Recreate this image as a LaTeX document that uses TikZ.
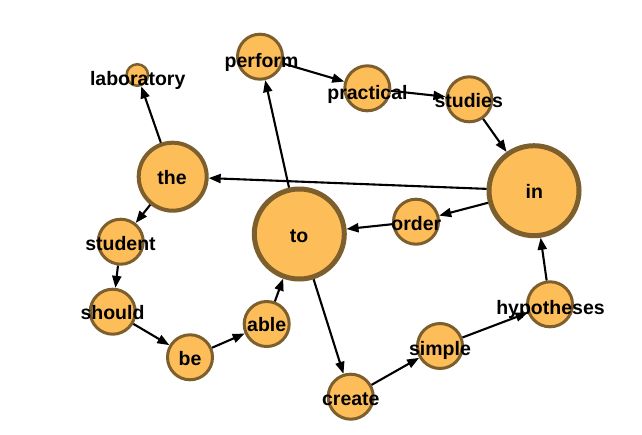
\documentclass[tikz,border=0pt]{standalone}
\usepackage{fontspec}
\setmainfont{Liberation Sans}
\usetikzlibrary{arrows.meta}
\definecolor{nodefill}{RGB}{253,190,90}
\definecolor{nodeedge}{RGB}{125,94,45}
\begin{document}
\begin{tikzpicture}[x=1pt,y=-1pt,
  vtx/.style={circle,draw=nodeedge,fill=nodefill,inner sep=0pt},
  big/.style={vtx,line width=5pt,minimum size=90pt},
  med/.style={vtx,line width=4pt,minimum size=68pt},
  mid/.style={vtx,line width=3pt,minimum size=45pt},
  tiny/.style={vtx,line width=2.5pt,minimum size=21.5pt},
  word/.style={anchor=base,font=\fontsize{19.5}{20}\selectfont\bfseries,text=black,inner sep=0pt},
  link/.style={-{Triangle[length=12pt,width=9pt]},line width=2.1pt,black}]
\useasboundingbox[fill=white] (0,0) rectangle (642,434);
% circles
\node[tiny] (lab) at (137.3,75) {};
\node[mid] (perform) at (260,56.7) {};
\node[mid] (practical) at (367.3,88.3) {};
\node[mid] (studies) at (469.3,99.3) {};
\node[big] (in) at (534,190.7) {};
\node[med] (the) at (172.7,176.7) {};
\node[mid] (order) at (416,221.7) {};
\node[big] (to) at (299.3,234) {};
\node[mid] (student) at (120.7,241.7) {};
\node[mid] (should) at (112.7,311.7) {};
\node[mid] (be) at (190,357.3) {};
\node[mid] (able) at (266.7,324) {};
\node[mid] (create) at (350.7,396.7) {};
\node[mid] (simple) at (440,346) {};
\node[mid] (hyp) at (550,304.3) {};
% edges
\draw[link] (the) -- (lab);
\draw[link] (to) -- (perform);
\draw[link] (perform) -- (practical);
\draw[link] (practical) -- (studies);
\draw[link] (studies) -- (in);
\draw[link] (in) -- (the);
\draw[link] (in) -- (order);
\draw[link] (order) -- (to);
\draw[link] (the) -- (student);
\draw[link] (student) -- (should);
\draw[link] (should) -- (be);
\draw[link] (be) -- (able);
\draw[link] (able) -- (to);
\draw[link] (to) -- (create);
\draw[link] (create) -- (simple);
\draw[link] (simple) -- (hyp);
\draw[link] (hyp) -- (in);
% labels
\node[word] (t-lab) at (137.7,85) {laboratory};
\node[word] (t-perform) at (261.5,67.5) {perform};
\node[word] (t-practical) at (367.5,99) {practical};
\node[word] (t-studies) at (468.7,107) {studies};
\node[word] (t-in) at (534.3,198) {in};
\node[word] (t-order) at (416.3,230) {order};
\node[word] (t-the) at (172,184) {the};
\node[word] (t-student) at (120.5,250) {student};
\node[word] (t-should) at (112.5,319.3) {should};
\node[word] (t-be) at (190,365) {be};
\node[word] (t-able) at (266.7,331) {able};
\node[word] (t-to) at (299,242.7) {to};
\node[word] (t-create) at (350.8,405.7) {create};
\node[word] (t-simple) at (440,355) {simple};
\node[word] (t-hyp) at (550.5,314) {hypotheses};
\end{tikzpicture}
\end{document}
